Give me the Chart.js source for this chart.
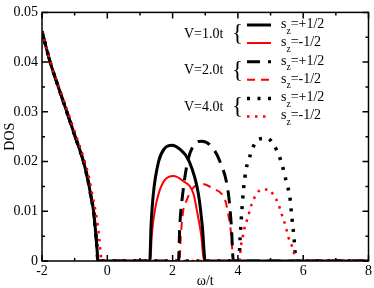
<!DOCTYPE html>
<html>
<head>
<meta charset="utf-8">
<script src="https://cdn.jsdelivr.net/npm/chart.js@4.4.0/dist/chart.umd.min.js"></script>
<style>
  html, body { margin: 0; padding: 0; background: #fff; }
</style>
</head>
<body>
<canvas id="dos" width="374" height="288"></canvas>
<script>
// ---- values ----
const xTicks = [-2, 0, 2, 4, 6, 8];
const yTicks = [0, 0.01, 0.02, 0.03, 0.04, 0.05];

// lower band (w < 0), the six curves lie on top of each other here
const lowBandW   = [-2, -1.75, -1.5, -1.24, -1.0, -0.73, -0.6, -0.5, -0.42, -0.36, -0.31, -0.29];
const lowBandDos = [0.0462, 0.040, 0.035, 0.030, 0.0253, 0.020, 0.0165, 0.0130, 0.010, 0.006, 0.002, 0];
// the red dotted trace sits a little to the right
const lowBandRedW = [-2, -1.74, -1.48, -1.21, -0.96, -0.69, -0.55, -0.45, -0.36, -0.27, -0.21, -0.17];

// upper bands
const v1UpW    = [1.30, 1.34, 1.41, 1.57, 1.75, 1.98, 2.2, 2.51, 2.79, 2.91, 3.0];
const v1UpDos  = [0, 0.007, 0.0135, 0.020, 0.0226, 0.0233, 0.0226, 0.020, 0.0135, 0.007, 0];
const v1DnW    = [1.32, 1.36, 1.46, 1.57, 1.75, 2.02, 2.3, 2.64, 2.74, 2.88, 2.96];
const v1DnDos  = [0, 0.005, 0.0103, 0.0135, 0.0162, 0.0171, 0.0162, 0.0135, 0.0103, 0.005, 0];
const v2UpW    = [2.18, 2.22, 2.31, 2.46, 2.65, 2.89, 3.15, 3.45, 3.71, 3.80, 3.86];
const v2UpDos  = [0, 0.007, 0.0135, 0.020, 0.0233, 0.0241, 0.0233, 0.020, 0.0135, 0.007, 0];
const v2DnW    = [2.21, 2.25, 2.33, 2.43, 2.6, 2.9, 3.2, 3.61, 3.68, 3.80, 3.86];
const v2DnDos  = [0, 0.005, 0.0103, 0.0122, 0.0145, 0.0155, 0.0147, 0.0122, 0.0103, 0.005, 0];
const v4UpW    = [4.03, 4.07, 4.12, 4.17, 4.25, 4.34, 4.44, 4.61, 4.90, 5.11, 5.26, 5.36, 5.44, 5.52, 5.59, 5.65, 5.72, 5.78];
const v4UpDos  = [0, 0.005, 0.010, 0.0143, 0.0184, 0.0205, 0.0225, 0.0244, 0.0247, 0.0232, 0.0212, 0.0192, 0.0171, 0.015, 0.013, 0.0089, 0.0046, 0];
const v4DnW    = [4.05, 4.09, 4.14, 4.19, 4.27, 4.34, 4.42, 4.53, 4.72, 4.95, 5.11, 5.24, 5.32, 5.41, 5.48, 5.55, 5.65, 5.72, 5.76];
const v4DnDos  = [0, 0.0028, 0.0046, 0.0063, 0.008, 0.0096, 0.0114, 0.013, 0.0144, 0.0144, 0.013, 0.0115, 0.0098, 0.0081, 0.0065, 0.0047, 0.0031, 0.0015, 0];

const groupLabels = ['V=1.0t', 'V=2.0t', 'V=4.0t'];
const spinLabels = ['+1/2', '-1/2'];
// stacking: higher = drawn later (on top)
const drawRank = [4, 0, 2, 1, 3, 5];

const SERIF = "'Liberation Serif', 'Times New Roman', serif";
const RED = '#ff0000';

function trace(lowW, upW, upDos) {
  const pts = lowW.map((w, i) => ({ x: w, y: lowBandDos[i] }));
  upW.forEach((w, i) => pts.push({ x: w, y: upDos[i] }));
  pts.push({ x: 8, y: 0 });
  return pts;
}

const datasets = [
  { label: 'V=1.0t sz=+1/2', data: trace(lowBandW, v1UpW, v1UpDos), borderColor: '#000', borderWidth: 3, borderDash: [] },
  { label: 'V=1.0t sz=-1/2', data: trace(lowBandW, v1DnW, v1DnDos), borderColor: RED, borderWidth: 2, borderDash: [] },
  { label: 'V=2.0t sz=+1/2', data: trace(lowBandW, v2UpW, v2UpDos), borderColor: '#000', borderWidth: 3, borderDash: [13, 8] },
  { label: 'V=2.0t sz=-1/2', data: trace(lowBandW, v2DnW, v2DnDos), borderColor: RED, borderWidth: 2, borderDash: [8, 6] },
  { label: 'V=4.0t sz=+1/2', data: trace(lowBandW, v4UpW, v4UpDos), borderColor: '#000', borderWidth: 3.5, borderDash: [3, 7.5] },
  { label: 'V=4.0t sz=-1/2', data: trace(lowBandRedW, v4DnW, v4DnDos), borderColor: RED, borderWidth: 2.5, borderDash: [2.5, 5.5] }
];
datasets.forEach((d, i) => {
  d.order = 10 - drawRank[i];
  d.fill = false;
  d.pointRadius = 0;
  d.cubicInterpolationMode = 'monotone';
});

// frame + inward ticks on all four sides
const framePlugin = {
  id: 'frame',
  afterDraw(chart) {
    const { ctx, chartArea: a, scales: { x, y } } = chart;
    ctx.save();
    ctx.strokeStyle = '#000';
    ctx.lineWidth = 1.5;
    ctx.beginPath();
    for (let v = -2; v <= 8; v += 1) {
      const px = x.getPixelForValue(v);
      const len = v % 2 === 0 ? 6 : 3;
      ctx.moveTo(px, a.bottom); ctx.lineTo(px, a.bottom - len);
      ctx.moveTo(px, a.top); ctx.lineTo(px, a.top + len);
    }
    for (let k = 0; k <= 10; k++) {
      const py = y.getPixelForValue(k * 0.005);
      const len = k % 2 === 0 ? 6 : 3;
      ctx.moveTo(a.left, py); ctx.lineTo(a.left + len, py);
      ctx.moveTo(a.right, py); ctx.lineTo(a.right - len, py);
    }
    ctx.stroke();
    ctx.strokeRect(a.left, a.top, a.right - a.left, a.bottom - a.top);
    ctx.restore();
  }
};

// bracketed legend, top right
const legendPlugin = {
  id: 'dosLegend',
  afterDraw(chart) {
    const ctx = chart.ctx;
    ctx.save();
    ctx.fillStyle = '#000';
    groupLabels.forEach((g, gi) => {
      const row0 = 25 + gi * 36.7;
      const mid = row0 + 9;
      ctx.font = '14px ' + SERIF;
      ctx.textBaseline = 'middle';
      ctx.textAlign = 'left';
      ctx.fillText(g, 184, mid);
      ctx.font = '23px ' + SERIF;
      ctx.fillText('{', 232, mid);
      spinLabels.forEach((s, si) => {
        const ds = datasets[gi * 2 + si];
        const ry = row0 + si * 18;
        ctx.beginPath();
        ctx.strokeStyle = ds.borderColor;
        ctx.lineWidth = ds.borderWidth;
        ctx.setLineDash(ds.borderDash);
        ctx.moveTo(247, ry);
        ctx.lineTo(271, ry);
        ctx.stroke();
        ctx.setLineDash([]);
        ctx.textBaseline = 'alphabetic';
        ctx.font = '14px ' + SERIF;
        ctx.fillText('s', 281, ry + 3);
        let cx = 281 + ctx.measureText('s').width;
        ctx.font = '9.5px ' + SERIF;
        ctx.fillText('z', cx, ry + 8.5);
        cx += ctx.measureText('z').width;
        ctx.font = '14px ' + SERIF;
        ctx.fillText('=' + s, cx, ry + 3);
      });
    });
    ctx.restore();
  }
};

new Chart(document.getElementById('dos'), {
  type: 'line',
  data: { datasets },
  plugins: [framePlugin, legendPlugin],
  options: {
    responsive: false,
    animation: false,
    devicePixelRatio: 1,
    layout: { padding: { top: 5.5, right: 5, left: 0, bottom: 0 } },
    plugins: { legend: { display: false }, tooltip: { enabled: false } },
    scales: {
      x: {
        type: 'linear',
        min: -2,
        max: 8,
        grid: { display: false, drawTicks: false },
        border: { display: false },
        afterBuildTicks: s => { s.ticks = xTicks.map(v => ({ value: v })); },
        ticks: { color: '#000', font: { family: SERIF, size: 14 }, padding: 2, maxRotation: 0, callback: v => String(v) },
        title: { display: true, text: 'ω/t', color: '#000', font: { family: SERIF, size: 14, lineHeight: 1 }, padding: 0 },
        afterFit: s => { s.height = 27; }
      },
      y: {
        min: 0,
        max: 0.05,
        grid: { display: false, drawTicks: false },
        border: { display: false },
        afterBuildTicks: s => { s.ticks = yTicks.map(v => ({ value: v })); },
        ticks: { color: '#000', font: { family: SERIF, size: 14 }, padding: 4, callback: v => (v === 0 ? '0' : v.toFixed(2)) },
        title: { display: true, text: 'DOS', color: '#000', font: { family: SERIF, size: 14, lineHeight: 1 }, padding: { top: 3 } },
        afterFit: s => { s.width = 42; }
      }
    }
  }
});
</script>
</body>
</html>
